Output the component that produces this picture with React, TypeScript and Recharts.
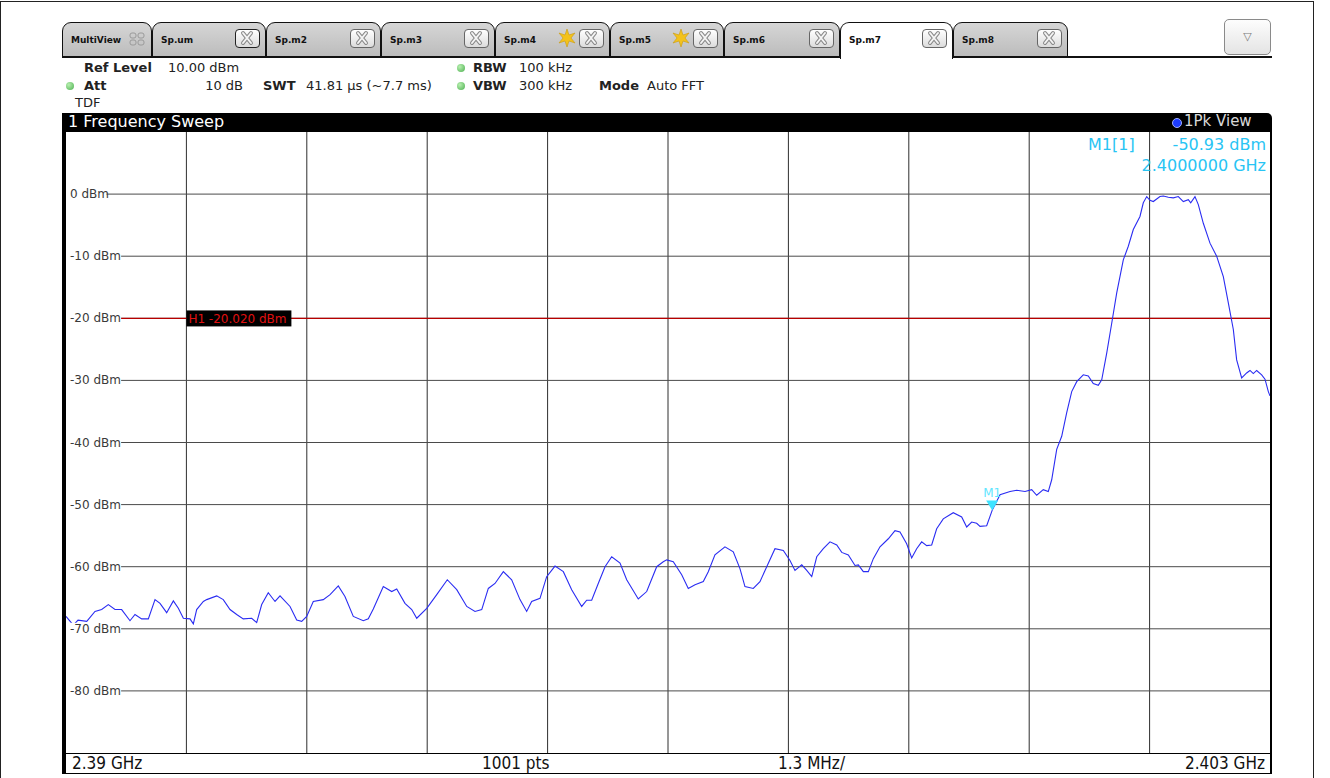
import React from "react";
import { LineChart, Line, XAxis, YAxis, ReferenceLine, ReferenceDot } from "recharts";

// ---------------- data ----------------
const FREQ_MHZ = [
  2390.000, 2390.079, 2390.130, 2390.224, 2390.313, 2390.385, 2390.457, 2390.529, 2390.601, 2390.691,
  2390.745, 2390.817, 2390.889, 2390.961, 2391.015, 2391.087, 2391.159, 2391.213, 2391.267, 2391.339,
  2391.375, 2391.411, 2391.483, 2391.519, 2391.627, 2391.698, 2391.771, 2391.843, 2391.914, 2392.005,
  2392.059, 2392.113, 2392.184, 2392.257, 2392.311, 2392.419, 2392.491, 2392.545, 2392.599, 2392.670,
  2392.778, 2392.851, 2392.940, 2393.012, 2393.102, 2393.210, 2393.264, 2393.318, 2393.426, 2393.517,
  2393.571, 2393.660, 2393.733, 2393.787, 2393.895, 2394.003, 2394.117, 2394.219, 2394.327, 2394.416,
  2394.489, 2394.560, 2394.632, 2394.722, 2394.812, 2394.902, 2394.974, 2395.028, 2395.118, 2395.190,
  2395.280, 2395.370, 2395.460, 2395.568, 2395.622, 2395.676, 2395.747, 2395.820, 2395.892, 2395.982,
  2396.054, 2396.179, 2396.270, 2396.378, 2396.449, 2396.486, 2396.557, 2396.648, 2396.719, 2396.792,
  2396.881, 2396.935, 2397.007, 2397.115, 2397.205, 2397.277, 2397.331, 2397.421, 2397.493, 2397.566,
  2397.655, 2397.745, 2397.817, 2397.871, 2397.944, 2397.998, 2398.052, 2398.106, 2398.177, 2398.249,
  2398.322, 2398.376, 2398.447, 2398.519, 2398.555, 2398.609, 2398.663, 2398.717, 2398.789, 2398.879,
  2398.951, 2399.005, 2399.077, 2399.131, 2399.185, 2399.239, 2399.293, 2399.347, 2399.401, 2399.472,
  2399.580, 2399.671, 2399.725, 2399.779, 2399.833, 2399.869, 2399.941, 2400.000, 2400.085, 2400.193,
  2400.265, 2400.355, 2400.427, 2400.481, 2400.552, 2400.606, 2400.643, 2400.697, 2400.751, 2400.805,
  2400.859, 2400.913, 2400.984, 2401.038, 2401.092, 2401.146, 2401.183, 2401.237, 2401.291, 2401.345,
  2401.416, 2401.470, 2401.524, 2401.596, 2401.632, 2401.669, 2401.704, 2401.740, 2401.812, 2401.848,
  2401.902, 2401.956, 2402.010, 2402.064, 2402.118, 2402.144, 2402.190, 2402.226, 2402.280, 2402.352,
  2402.424, 2402.496, 2402.550, 2402.604, 2402.640, 2402.694, 2402.748, 2402.784, 2402.820, 2402.856,
  2402.910, 2402.946, 2402.982, 2403.000,
];

const LEVEL_DBM = [
  -68.0, -69.4, -68.6, -68.8, -67.2, -66.9, -66.1, -66.9, -66.9, -68.7,
  -67.7, -68.4, -68.4, -65.3, -65.9, -67.4, -65.5, -66.7, -68.3, -68.4,
  -69.2, -66.9, -65.6, -65.3, -64.7, -65.3, -66.9, -67.7, -68.4, -68.3,
  -69.0, -66.1, -64.2, -65.6, -64.7, -66.4, -68.6, -68.8, -68.0, -65.6,
  -65.3, -64.5, -63.1, -64.8, -68.0, -68.7, -68.4, -66.8, -63.2, -64.0,
  -63.6, -65.9, -66.9, -68.3, -66.7, -64.5, -62.1, -63.7, -66.4, -67.2,
  -66.9, -63.5, -62.7, -60.8, -62.1, -65.3, -67.2, -65.6, -65.1, -61.6,
  -59.9, -60.8, -63.7, -66.4, -65.4, -65.4, -62.7, -60.0, -58.4, -59.4,
  -62.1, -65.2, -64.0, -60.0, -59.2, -58.9, -59.2, -61.3, -63.5, -62.9,
  -62.4, -60.8, -58.1, -56.8, -57.6, -60.3, -63.2, -63.5, -62.4, -60.0,
  -57.1, -57.4, -59.0, -60.6, -59.7, -60.6, -61.6, -58.4, -57.1, -56.0,
  -56.5, -57.7, -58.1, -59.8, -59.7, -60.8, -60.8, -58.7, -56.8, -55.5,
  -54.2, -54.4, -56.3, -58.6, -57.1, -56.0, -56.6, -56.5, -53.9, -52.3,
  -51.3, -52.0, -53.6, -52.8, -53.0, -53.5, -53.4, -50.93, -48.4, -47.9,
  -47.7, -47.9, -47.6, -48.5, -47.6, -47.9, -46.0, -41.1, -39.0, -35.2,
  -31.8, -30.2, -29.1, -29.3, -30.5, -30.8, -29.9, -25.6, -20.8, -15.9,
  -10.6, -8.4, -5.7, -3.6, -1.4, -0.4, -1.0, -1.2, -0.4, -0.3,
  -0.5, -0.6, -0.4, -1.2, -0.9, -1.4, -0.4, -1.7, -4.7, -7.9,
  -10.0, -13.3, -17.5, -21.8, -26.7, -29.6, -28.8, -28.4, -28.9, -28.4,
  -29.1, -29.8, -31.8, -32.5,
];

const X_DOMAIN = [2390, 2403];
const Y_DOMAIN = [-90, 10];
const X_GRID_TICKS = [2391.3, 2392.6, 2393.9, 2395.2, 2396.5, 2397.8, 2399.1, 2400.4, 2401.7];
const Y_GRID_TICKS = [0, -10, -20, -30, -40, -50, -60, -70, -80];

const H1_LEVEL = -20.02;
const H1_LABEL = "H1 -20.020 dBm";
const H1_LABEL_FREQ = 2391.3;

const M1_FREQ = 2400.0;
const M1_LEVEL = -50.93;

const TAB_LABELS = ["MultiView", "Sp.um", "Sp.m2", "Sp.m3", "Sp.m4", "Sp.m5", "Sp.m6", "Sp.m7", "Sp.m8"];
const BOTTOM_LABELS = ["2.39 GHz", "1001 pts", "1.3 MHz/", "2.403 GHz"];

const data = FREQ_MHZ.map((f, i) => ({ f, dbm: LEVEL_DBM[i] }));

// ---------------- styling ----------------
const SANS = "'DejaVu Sans', Verdana, sans-serif";
const COND = "'DejaVu Sans Condensed', 'Liberation Sans Narrow', 'DejaVu Sans', sans-serif";
const TRACE = "#2a2cf2";
const CYAN = "#28c4f4";
const GRID_V = "#2e2e2e";
const GRID_H = "#4a4a4a";

const TAB_POS = [
  [62, 90], [152, 114], [266, 115], [381, 114], [495, 115], [610, 114], [724, 116], [840, 113], [953, 115],
];

function CloseBtn({ dark }: { dark?: boolean }) {
  return (
    <div
      style={{
        position: "absolute", right: 5, top: 6, width: 25, height: 19,
        border: `1.5px solid ${dark ? "#222" : "#666"}`, borderRadius: 4,
        background: "linear-gradient(#ffffff,#dcdcdc)", boxSizing: "border-box",
      }}
    >
      <svg width={22} height={16} style={{ position: "absolute", left: 0, top: 0 }}>
        <path d="M7 3 L15 13 M15 3 L7 13" stroke="#8a8a8a" strokeWidth={4} strokeLinecap="round" />
        <path d="M7 3 L15 13 M15 3 L7 13" stroke="#f4f4f4" strokeWidth={2} strokeLinecap="round" />
      </svg>
    </div>
  );
}

function Star() {
  return (
    <svg width={18} height={18} style={{ position: "absolute", right: 33, top: 6 }}>
      <polygon
        points="9,0 11,6 17,4 13,9 17,14 11,12 9,18 7,12 1,14 5,9 1,4 7,6"
        fill="#f3c21c" stroke="#c99a10" strokeWidth={0.6}
      />
    </svg>
  );
}

function Tab({ i }: { i: number }) {
  const [left, width] = TAB_POS[i];
  const label = TAB_LABELS[i];
  const active = label === "Sp.m7";
  return (
    <div
      style={{
        position: "absolute", left, top: 22, width, height: active ? 37 : 35,
        border: "1.5px solid #111", borderBottom: active ? "none" : "1.5px solid #111",
        borderRadius: "9px 9px 0 0", boxSizing: "border-box",
        background: active ? "#ffffff" : "linear-gradient(#d6d6d6,#bcbcbc)",
        zIndex: active ? 3 : 2,
      }}
    >
      <div style={{ position: "absolute", left: 8, top: 12, fontFamily: SANS, fontWeight: 700, fontSize: 9, color: "#111" }}>
        {label}
      </div>
      {i === 0 ? (
        <svg width={16} height={14} style={{ position: "absolute", right: 6, top: 9 }}>
          <rect x={1} y={1} width={6} height={5} rx={2} fill="none" stroke="#9a9a9a" />
          <rect x={9} y={1} width={6} height={5} rx={2} fill="none" stroke="#9a9a9a" />
          <rect x={1} y={8} width={6} height={5} rx={2} fill="none" stroke="#9a9a9a" />
          <rect x={9} y={8} width={6} height={5} rx={2} fill="none" stroke="#9a9a9a" />
        </svg>
      ) : (
        <CloseBtn dark={label === "Sp.um"} />
      )}
      {(label === "Sp.m4" || label === "Sp.m5") && <Star />}
    </div>
  );
}

function Dot({ x, y }: { x: number; y: number }) {
  return (
    <div
      style={{
        position: "absolute", left: x - 4, top: y - 4, width: 8, height: 8, borderRadius: 4,
        background: "radial-gradient(circle at 35% 35%, #b8f0b0, #4caf50)",
      }}
    />
  );
}

function T({ x, y, children, bold, size = 13, color = "#222", right, family = SANS }: any) {
  const style: any = {
    position: "absolute", top: y, fontFamily: family, fontSize: size, color,
    fontWeight: bold ? 700 : 400, whiteSpace: "nowrap", lineHeight: 1,
  };
  if (right) style.right = 1330 - x;
  else style.left = x;
  return <div style={style}>{children}</div>;
}

const makeYLabel = (value: number) => (props: any) => {
  const { cx, cy } = props;
  const label = `${value} dBm`;
  const w = label.length * 7.3 + 4;
  return (
    <g>
      <rect x={cx} y={cy - 6} width={w} height={12} fill="#ffffff" />
      <text x={cx + 4} y={cy + 4} fontSize={12} fill="#3a3a3a" fontFamily={SANS}>
        {label}
      </text>
    </g>
  );
};

const H1Shape = (props: any) => {
  const { cx, cy } = props;
  return (
    <g>
      <rect x={cx} y={cy - 8} width={105} height={16} fill="#000" />
      <text x={cx + 2} y={cy + 5} fontSize={12} fill="#e01010" fontFamily={SANS}>
        {H1_LABEL}
      </text>
    </g>
  );
};

const M1Shape = (props: any) => {
  const { cx, cy } = props;
  return (
    <g>
      <polygon points={`${cx - 6},${cy - 10} ${cx + 6},${cy - 10} ${cx},${cy}`} fill="#3fe3ff" />
      <text x={cx} y={cy - 13} fontSize={12} fill="#5fe6ff" textAnchor="middle" fontFamily={SANS}>
        M1
      </text>
    </g>
  );
};

export default function App() {
  return (
    <div style={{ position: "fixed", left: 0, top: 0, width: 1330, height: 778, background: "#fff", overflow: "hidden" }}>
      {/* outer frame */}
      <div style={{ position: "absolute", left: 0, top: 1, width: 1314, height: 800, border: "1px solid #222", boxSizing: "border-box" }} />

      {/* tabs */}
      <div style={{ position: "absolute", left: 62, top: 56, width: 1210, height: 1.5, background: "#111", zIndex: 1 }} />
      {TAB_LABELS.map((_, i) => (
        <Tab key={i} i={i} />
      ))}
      <div
        style={{
          position: "absolute", left: 1224, top: 19, width: 47, height: 36, border: "1px solid #8a8a8a",
          borderRadius: 5, background: "linear-gradient(#fdfdfd,#e4e4e4)", boxSizing: "border-box",
          textAlign: "center", lineHeight: "34px", color: "#7a7a7a", fontSize: 11, fontFamily: SANS,
        }}
      >
        ▽
      </div>

      {/* header info */}
      <T x={84} y={61} bold>Ref Level</T>
      <T x={168} y={61}>10.00 dBm</T>
      <Dot x={70} y={86} />
      <T x={84} y={79} bold>Att</T>
      <T x={243} y={79} right>10 dB</T>
      <T x={263} y={79} bold>SWT</T>
      <T x={306} y={79}>41.81 µs (~7.7 ms)</T>
      <Dot x={461} y={68} />
      <T x={473} y={61} bold>RBW</T>
      <T x={519} y={61}>100 kHz</T>
      <Dot x={461} y={86} />
      <T x={473} y={79} bold>VBW</T>
      <T x={519} y={79}>300 kHz</T>
      <T x={599} y={79} bold>Mode</T>
      <T x={647} y={79}>Auto FFT</T>
      <T x={75} y={96}>TDF</T>

      {/* title bar */}
      <div
        style={{
          position: "absolute", left: 62, top: 113, width: 1210, height: 19, background: "#000",
          borderRadius: "0 5px 0 0",
        }}
      />
      <T x={68} y={114} size={16} color="#fff">1 Frequency Sweep</T>
      <div
        style={{
          position: "absolute", left: 1172, top: 118, width: 8, height: 8, borderRadius: 5,
          background: "#1d3cff", border: "1px solid #9fb0ff",
        }}
      />
      <T x={1184} y={114} size={15} color="#d8d8d8">1Pk View</T>

      {/* plot frame */}
      <div style={{ position: "absolute", left: 62, top: 131, width: 4, height: 643, background: "#000" }} />
      <div style={{ position: "absolute", left: 1270, top: 131, width: 2, height: 643, background: "#000" }} />
      <div style={{ position: "absolute", left: 62, top: 773, width: 1210, height: 1, background: "#000" }} />

      {/* chart */}
      <div style={{ position: "absolute", left: 0, top: 0 }}>
        <LineChart width={1330} height={778} data={data} margin={{ top: 132, right: 60, bottom: 25, left: 66 }}>
          <XAxis dataKey="f" type="number" domain={X_DOMAIN} allowDataOverflow hide />
          <YAxis type="number" domain={Y_DOMAIN} allowDataOverflow hide />
          {X_GRID_TICKS.map((t) => (
            <ReferenceLine key={`vx${t}`} x={t} stroke={GRID_V} strokeWidth={1} />
          ))}
          {Y_GRID_TICKS.map((t) => (
            <ReferenceLine key={`hy${t}`} y={t} stroke={GRID_H} strokeWidth={1} />
          ))}
          {Y_GRID_TICKS.map((t) => (
            <ReferenceDot key={`ly${t}`} x={X_DOMAIN[0]} y={t} shape={makeYLabel(t)} ifOverflow="visible" />
          ))}
          <ReferenceLine y={H1_LEVEL} stroke="#b80000" strokeWidth={1.2} ifOverflow="visible" />
          <ReferenceDot x={H1_LABEL_FREQ} y={H1_LEVEL} shape={H1Shape} ifOverflow="visible" />
          <Line
            type="linear" dataKey="dbm" stroke={TRACE} strokeWidth={1.1} dot={false}
            isAnimationActive={false}
          />
          <ReferenceDot x={M1_FREQ} y={M1_LEVEL} shape={M1Shape} ifOverflow="visible" />
        </LineChart>
      </div>

      {/* marker readout */}
      <T x={1088} y={137} size={16} color={CYAN}>M1[1]</T>
      <T x={1266} y={137} size={16} color={CYAN} right>-50.93 dBm</T>
      <T x={1266} y={158} size={16} color={CYAN} right>2.4000000 GHz</T>

      {/* bottom status bar */}
      <div style={{ position: "absolute", left: 66, top: 754, width: 1204, height: 19, background: "#fff" }} />
      <div style={{ position: "absolute", left: 66, top: 753, width: 1204, height: 1, background: "#000" }} />
      <T x={72} y={755} size={17} color="#111" family={COND}>{BOTTOM_LABELS[0]}</T>
      <T x={482} y={755} size={17} color="#111" family={COND}>{BOTTOM_LABELS[1]}</T>
      <T x={778} y={755} size={17} color="#111" family={COND}>{BOTTOM_LABELS[2]}</T>
      <T x={1265} y={755} size={17} color="#111" family={COND} right>{BOTTOM_LABELS[3]}</T>
    </div>
  );
}
